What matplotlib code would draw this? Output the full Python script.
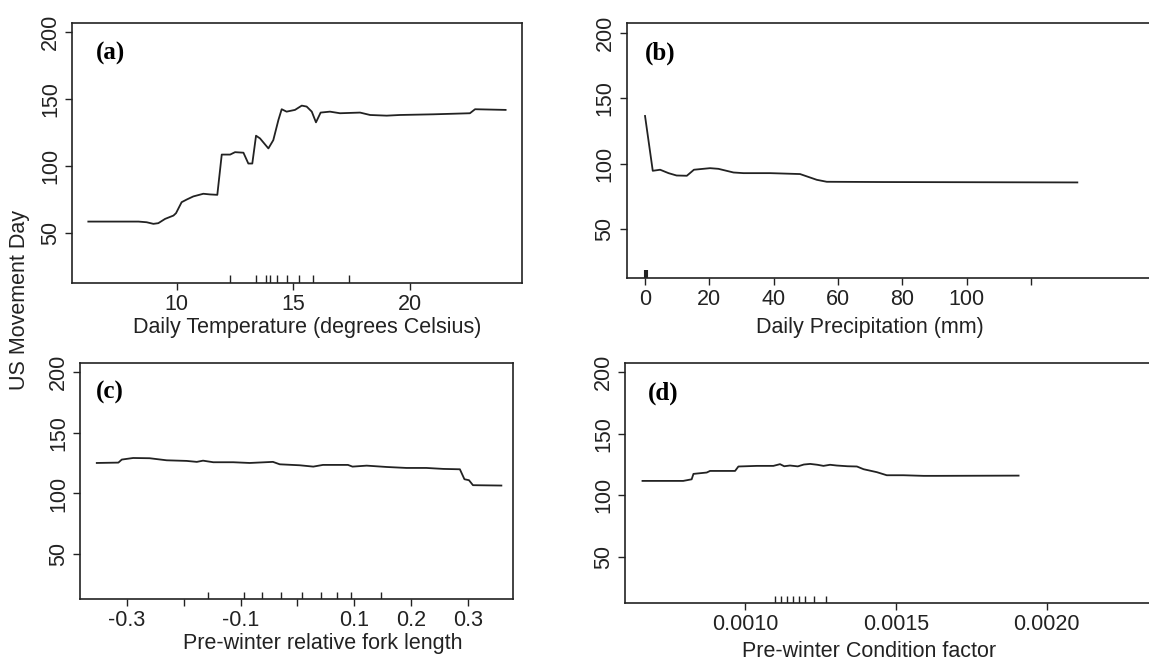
import matplotlib
matplotlib.use("Agg")
import matplotlib.pyplot as plt

plt.rcParams['font.family'] = ['Liberation Sans', 'DejaVu Sans']

# (a) daily temperature
temp_x = [6.21, 8.36, 8.71, 9.0, 9.21, 9.5, 9.86, 9.97, 10.21, 10.43, 10.71, 11.14, 11.43, 11.74,
          11.93, 12.29, 12.5, 12.86, 13.07, 13.24, 13.4, 13.57, 13.93, 14.14, 14.36, 14.5, 14.71,
          15.07, 15.36, 15.57, 15.79, 15.97, 16.17, 16.57, 17.0, 17.86, 18.29, 19.0, 19.57, 21.0,
          22.57, 22.79, 24.1]
temp_y = [58.5, 58.5, 58, 56.8, 57.3, 60.5, 63, 64.8, 73, 75, 77.3, 79.3, 78.8, 78.5,
          108.6, 108.6, 110.4, 110, 101.9, 101.9, 122.7, 120.7, 113.2, 119.4, 134.5, 142.5, 140.7,
          142, 145.2, 144.5, 140.7, 132.7, 140, 140.7, 139.5, 140, 138.2, 137.7, 138.2, 138.7,
          139.5, 142.5, 142]
temp_rug = [12.3, 13.42, 13.83, 14.01, 14.31, 14.72, 15.26, 15.83, 17.38]

# (b) daily precipitation
prec_x = [0, 2.4, 4.7, 7.3, 9.8, 13.0, 15.2, 20.2, 22.8, 27.5, 30.6, 38.9, 48.2, 53.4, 56.5, 74.1, 134.4]
prec_y = [136.4, 94.5, 95.3, 92.7, 90.9, 90.7, 95.3, 96.5, 96, 93.2, 92.7, 92.7, 92, 87.6, 86.1, 85.9, 85.6]
prec_rug = [0, 0.25, 0.5]

# (c) pre-winter relative fork length
fork_x = [-0.353, -0.315, -0.309, -0.289, -0.26, -0.23, -0.195, -0.177, -0.166, -0.148, -0.113,
          -0.084, -0.043, -0.031, 0.004, 0.028, 0.045, 0.089, 0.097, 0.122, 0.157, 0.192, 0.227,
          0.257, 0.286, 0.294, 0.302, 0.309, 0.359]
fork_y = [125.1, 125.4, 127.9, 129.2, 129, 127.3, 126.8, 126, 127, 125.7, 125.7,
          125.1, 126, 124, 123.2, 122.1, 123.5, 123.5, 122.1, 122.9, 121.8, 121, 121,
          120.2, 119.9, 111.7, 110.9, 106.8, 106.5]
fork_rug = [-0.157, -0.094, -0.063, -0.029, 0.009, 0.041, 0.070, 0.094, 0.147]

# (d) pre-winter condition factor
cond_x = [0.000660, 0.000795, 0.000823, 0.000829, 0.000873, 0.000884, 0.000967, 0.000978, 0.001039,
          0.001094, 0.001116, 0.001130, 0.001149, 0.001175, 0.001195, 0.001216, 0.001240, 0.001260,
          0.001282, 0.001304, 0.001340, 0.001371, 0.001393, 0.001437, 0.001470, 0.001525, 0.001592,
          0.001636, 0.001907]
cond_y = [111.7, 111.7, 113, 117.4, 118.5, 119.8, 119.8, 123.4, 123.9,
          123.9, 125.3, 123.6, 124.2, 123.5, 125.0, 125.5, 124.8, 123.9,
          124.8, 124.2, 123.6, 123.4, 121.2, 118.8, 116.3, 116.3, 115.8,
          115.8, 116]
cond_rug = [0.00110, 0.00112, 0.00114, 0.00116, 0.00118, 0.00120, 0.00123, 0.00127]

W, H = 1149, 666
FS = 15.5
fig = plt.figure(figsize=(W / 100, H / 100), dpi=100)


def box(l, r, t, b):
    return [l / W, 1 - b / H, (r - l) / W, (b - t) / H]


def panel(rect, x, y, rug, xlim, xticks, xlabels, tag, tag_xy, xlab, xlab_xy, rug_lw=1.0):
    ax = fig.add_axes(rect)
    ax.plot(x, y, color='#222222', lw=1.3)
    ax.vlines(rug, 0, 0.03, transform=ax.get_xaxis_transform(), color='#222222', lw=rug_lw)
    ax.set_xlim(xlim)
    ax.set_ylim(12.8, 207.2)
    ax.set_xticks(xticks)
    ax.set_xticklabels(xlabels, fontsize=FS)
    ax.set_yticks([50, 100, 150, 200])
    ax.set_yticklabels(['50', '100', '150', '200'], fontsize=FS, rotation=90, va='center')
    ax.tick_params(direction='out', length=5, width=1.0, color='#222222', labelcolor='#222222', pad=3)
    for s in ax.spines.values():
        s.set_linewidth(1.2)
        s.set_color('#222222')
    fig.text(tag_xy[0] / W, 1 - tag_xy[1] / H, tag, fontsize=18, fontweight='bold',
             family='Liberation Serif', va='center', ha='left')
    fig.text(xlab_xy[0] / W, 1 - xlab_xy[1] / H, xlab, fontsize=FS, ha='center', va='center',
             color='#222222')
    return ax


panel(box(72, 521.7, 22.7, 282.7), temp_x, temp_y, temp_rug, (5.51, 24.79), [10, 15, 20],
      ['10', '15', '20'], '(a)', (96, 53), 'Daily Temperature (degrees Celsius)', (306.7, 327))

panel(box(626.7, 1160, 23.3, 277.7), prec_x, prec_y, prec_rug, (-5.7, 160.1),
      [0, 20, 40, 60, 80, 100, 120], ['0', '20', '40', '60', '80', '100', ''], '(b)', (645, 53),
      'Daily Precipitation (mm)', (870, 328), rug_lw=1.5)

panel(box(80.3, 513.3, 363.3, 599.3), fork_x, fork_y, fork_rug, (-0.382, 0.380),
      [-0.3, -0.2, -0.1, 0.0, 0.1, 0.2, 0.3], ['-0.3', '', '-0.1', '', '0.1', '0.2', '0.3'],
      '(c)', (96, 392), 'Pre-winter relative fork length', (323, 643))

panel(box(625, 1160, 363.3, 602.7), cond_x, cond_y, cond_rug, (0.000602, 0.002376),
      [0.0010, 0.0015, 0.0020], ['0.0010', '0.0015', '0.0020'], '(d)', (648, 393),
      'Pre-winter Condition factor', (868.7, 651.5))

fig.text(20 / W, 1 - 300 / H, 'US Movement Day', rotation=90, fontsize=FS, ha='center', va='center',
         color='#222222')

fig.savefig('out.png', dpi=100)
